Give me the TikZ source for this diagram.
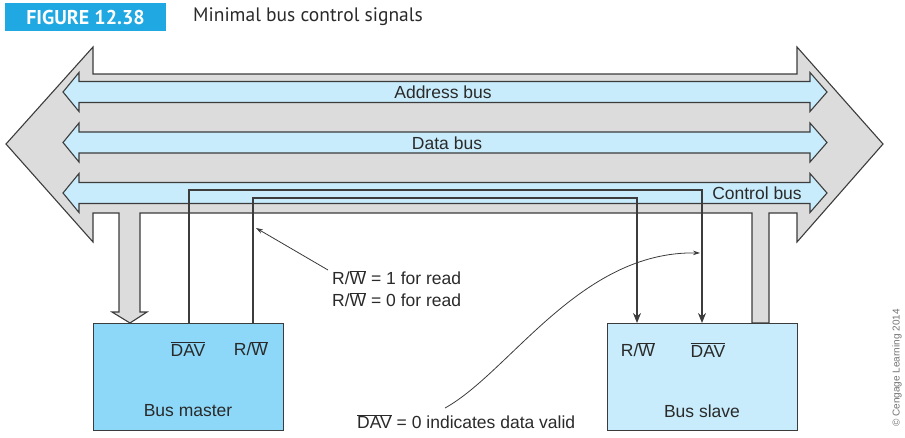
\documentclass[tikz,border=0pt]{standalone}
\usepackage{fontspec}
\setmainfont{Liberation Sans}
\newfontfamily\titlefont{PT Sans}
\usetikzlibrary{arrows.meta}
\definecolor{busgray}{HTML}{DCDCDC}
\definecolor{busblue}{HTML}{C8ECFB}
\definecolor{masterblue}{HTML}{8DD8F8}
\definecolor{slaveblue}{HTML}{C8ECFB}
\definecolor{titleblue}{HTML}{1FA8E1}
\definecolor{edgegray}{HTML}{3C3C3C}
\definecolor{txtgray}{HTML}{2A2A2A}
\newcommand\ovl[1]{$\overline{\hbox{#1}}$}
\begin{document}
\begin{tikzpicture}[x=1pt,y=-1pt,
  outline/.style={draw=edgegray, line width=1.1pt, line join=miter},
  bigbus/.style={outline, fill=busgray},
  bluebus/.style={outline, fill=busblue},
  lbl/.style={font=\fontsize{17.5}{22}\selectfont, text=txtgray, inner sep=0pt},
  sig/.style={draw=edgegray, line width=1.2pt},
  sigarrow/.style={sig, -{Stealth[length=10pt,width=8pt]}},
  note/.style={draw=edgegray, line width=0.8pt, -{Stealth[length=7pt,width=4.5pt]}},
  unitbox/.style={outline, inner sep=0pt, minimum width=190pt, minimum height=107pt, anchor=north west}
]
\useasboundingbox (0,0) rectangle (905,437);

% title
\node[fill=titleblue, minimum width=161pt, minimum height=28pt, inner sep=0pt,
      text=white, font=\titlefont\bfseries\fontsize{20}{22}\selectfont] (fig) at (85.5,17) {FIGURE 12.38};
\node[anchor=west, inner sep=0pt, text=txtgray, font=\titlefont\fontsize{19.5}{22}\selectfont] (title) at (193,17) {Minimal bus control signals};

% big gray bus arrow with stems
\path[bigbus] (93,74) -- (797,74) -- (797,47) -- (883,144) -- (797,242) -- (797,213)
  -- (769,213) -- (769,323) -- (752,323) -- (752,213)
  -- (140,213) -- (140,312) -- (147,312) -- (130,323) -- (112,312) -- (119,312) -- (119,213)
  -- (93,213) -- (93,242) -- (6,144) -- (93,47) -- cycle;

% blue buses
\foreach \yc in {92,142.5,193}{
  \path[bluebus] (79,\yc-10.5) -- (810,\yc-10.5) -- (810,\yc-19.5) -- (827,\yc) -- (810,\yc+19.5)
    -- (810,\yc+10.5) -- (79,\yc+10.5) -- (79,\yc+19.5) -- (63,\yc) -- (79,\yc-19.5) -- cycle;
}
\node[lbl] (addr) at (443,92) {Address bus};
\node[lbl] (data) at (447,143) {Data bus};
\node[lbl] (ctrl) at (757,193) {Control bus};

% units
\node[unitbox, fill=masterblue] (master) at (93,323) {};
\node[unitbox, fill=slaveblue, minimum width=190pt] (slave) at (607,323) {};
\node[lbl] (mdav) at (188,349) {\ovl{DAV}};
\node[lbl] (mrw) at (251,349) {R/\ovl{W}};
\node[lbl] (mname) at (188,411) {Bus master};
\node[lbl] (srw) at (638,350) {R/\ovl{W}};
\node[lbl] (sdav) at (708,350) {\ovl{DAV}};
\node[lbl] (sname) at (702,411) {Bus slave};

% signal lines
\coordinate (mD) at (189,323);
\coordinate (mR) at (253,323);
\coordinate (sR) at (637,323);
\coordinate (sD) at (702,323);
\coordinate (davY) at (0,190);
\coordinate (rwY) at (0,198);
\draw[sigarrow] (mD) -- (mD |- davY) -- (sD |- davY) -- (sD);
\draw[sigarrow] (mR) -- (mR |- rwY) -- (sR |- rwY) -- (sR);

% notes
\node[lbl, anchor=north west, align=left] (rwnote) at (332,270) {R/\ovl{W} = 1 for read\\R/\ovl{W} = 0 for read};
\coordinate (rwtip) at (256,228);
\draw[note] (rwnote.north west) ++(-4,0) -- (rwtip);
\node[lbl, anchor=west] (davnote) at (357,422) {\ovl{DAV} = 0 indicates data valid};
\coordinate (davstart) at (445,408);
\coordinate (davtip) at (700,253);
\draw[note] (davstart) .. controls (510,372) and (580,251) .. (davtip);

% copyright
\node[rotate=90, inner sep=0pt, text=black!55, font=\fontsize{10}{12}\selectfont] (copy) at (897,368) {\textcopyright{} Cengage Learning 2014};
\end{tikzpicture}
\end{document}
